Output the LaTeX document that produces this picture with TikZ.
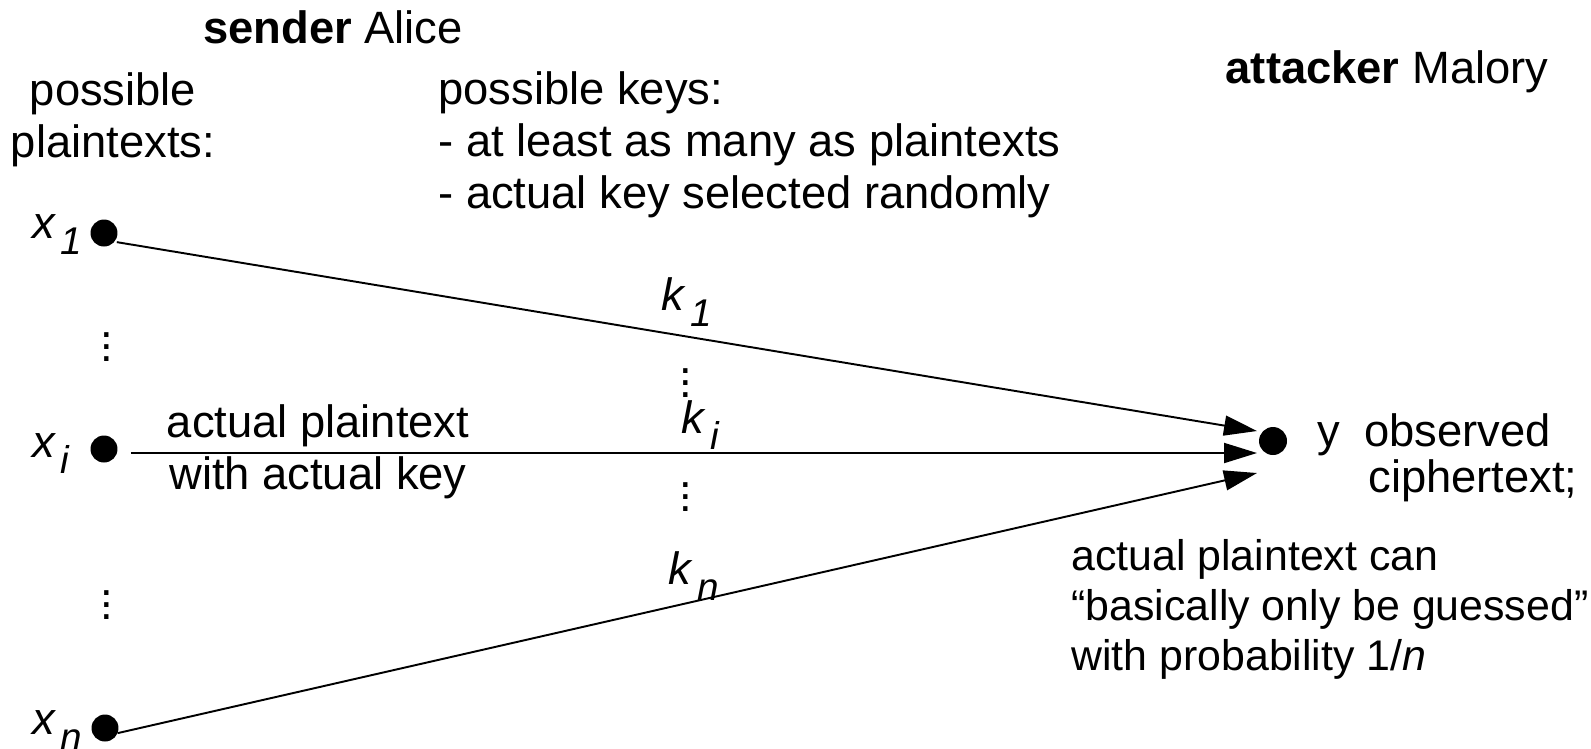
\documentclass[tikz,border=0pt]{standalone}
\usepackage{fontspec}
\setmainfont{Liberation Sans}
\usetikzlibrary{arrows.meta}

% letter with a lowered italic index, as on the slide
\newcommand{\sbs}[2]{\textit{#1}\kern0.1em\raisebox{-0.36em}{\fontsize{22pt}{22pt}\selectfont\textit{#2}}}
% three stacked dots
\newcommand{\vdts}{\vbox{\baselineskip=0.24cm\lineskiplimit=0pt\hbox{.}\hbox{.}\hbox{.}}}

\begin{document}
\begin{tikzpicture}[x=0.02cm,y=-0.02cm,
      >={Triangle[length=0.66cm,width=0.4cm]},
      every node/.style={font=\fontsize{25.8pt}{29.5pt}\selectfont},
      txt/.style={inner sep=0pt,align=left,anchor=base west},
      ctxt/.style={inner sep=0pt,align=center,anchor=base},
      dot/.style={circle,fill=black,inner sep=0pt,minimum size=0.54cm},
      ydot/.style={circle,fill=black,inner sep=0pt,minimum size=0.56cm},
      dts/.style={inner sep=0pt},
      keyline/.style={draw=black,line width=1.1pt,->,shorten <=0.26cm}
    ]
    \useasboundingbox (0,0) rectangle (1591,748);
    % headings (multi-line nodes sit on their last line)
    \node[ctxt] (snd) at (333,43) {\textbf{sender} Alice};
    \node[ctxt] (att) at (1387,83) {\textbf{attacker} Malory};
    \node[ctxt] (ptx) at (113,157) {possible\\plaintexts:};
    \node[txt] (keys) at (438,208)
      {possible keys:\\- at least as many as plaintexts\\- actual key selected randomly};
    % plaintexts on the left
    \node[dot] (x1) at (104,233) {};
    \node[dot] (xi) at (104,449) {};
    \node[dot] (xn) at (105,728) {};
    \node[txt] (lx1) at (32,238) {\sbs{x}{1}};
    \node[txt] (lxi) at (32,457) {\sbs{x}{i}};
    \node[txt] (lxn) at (32,734) {\sbs{x}{n}};
    \node[dts] (d1) at (107,347) {\vdts};
    \node[dts] (d2) at (107,605) {\vdts};
    % ciphertext on the right
    \node[ydot] (y) at (1273,441) {};
    \node[txt] (ly) at (1317,446) {y};
    \node[txt] (obs) at (1364,446) {observed};
    \node[txt] (ctx) at (1368,492) {ciphertext;};
    \coordinate (in1) at (1257,431);
    \coordinate (in2) at (1257,453);
    \coordinate (in3) at (1257,473);
    % one key per plaintext
    \draw[keyline] ([yshift=-0.14cm]x1.center) -- (in1);
    \draw[keyline] (xi.east |- in2) -- (in2);
    \draw[keyline] ([yshift=-0.16cm]xn.center) -- (in3);
    \node[txt] (k1) at (661,310) {\sbs{k}{1}};
    \node[txt] (ki) at (681,433) {\sbs{k}{i}};
    \node[txt] (kn) at (668,584) {\sbs{k}{n}};
    \node[dts] (d3) at (686,383) {\vdts};
    \node[dts] (d4) at (686,497) {\vdts};
    % notes
    \node[ctxt] (act) at (318,489) {actual plaintext\\with actual key};
    \node[txt,font=\fontsize{24.4pt}{28.4pt}\selectfont] (guess) at (1071,670)
      {actual plaintext can\\``basically only be guessed''\\with probability 1/\textit{n}};
\end{tikzpicture}
\end{document}
